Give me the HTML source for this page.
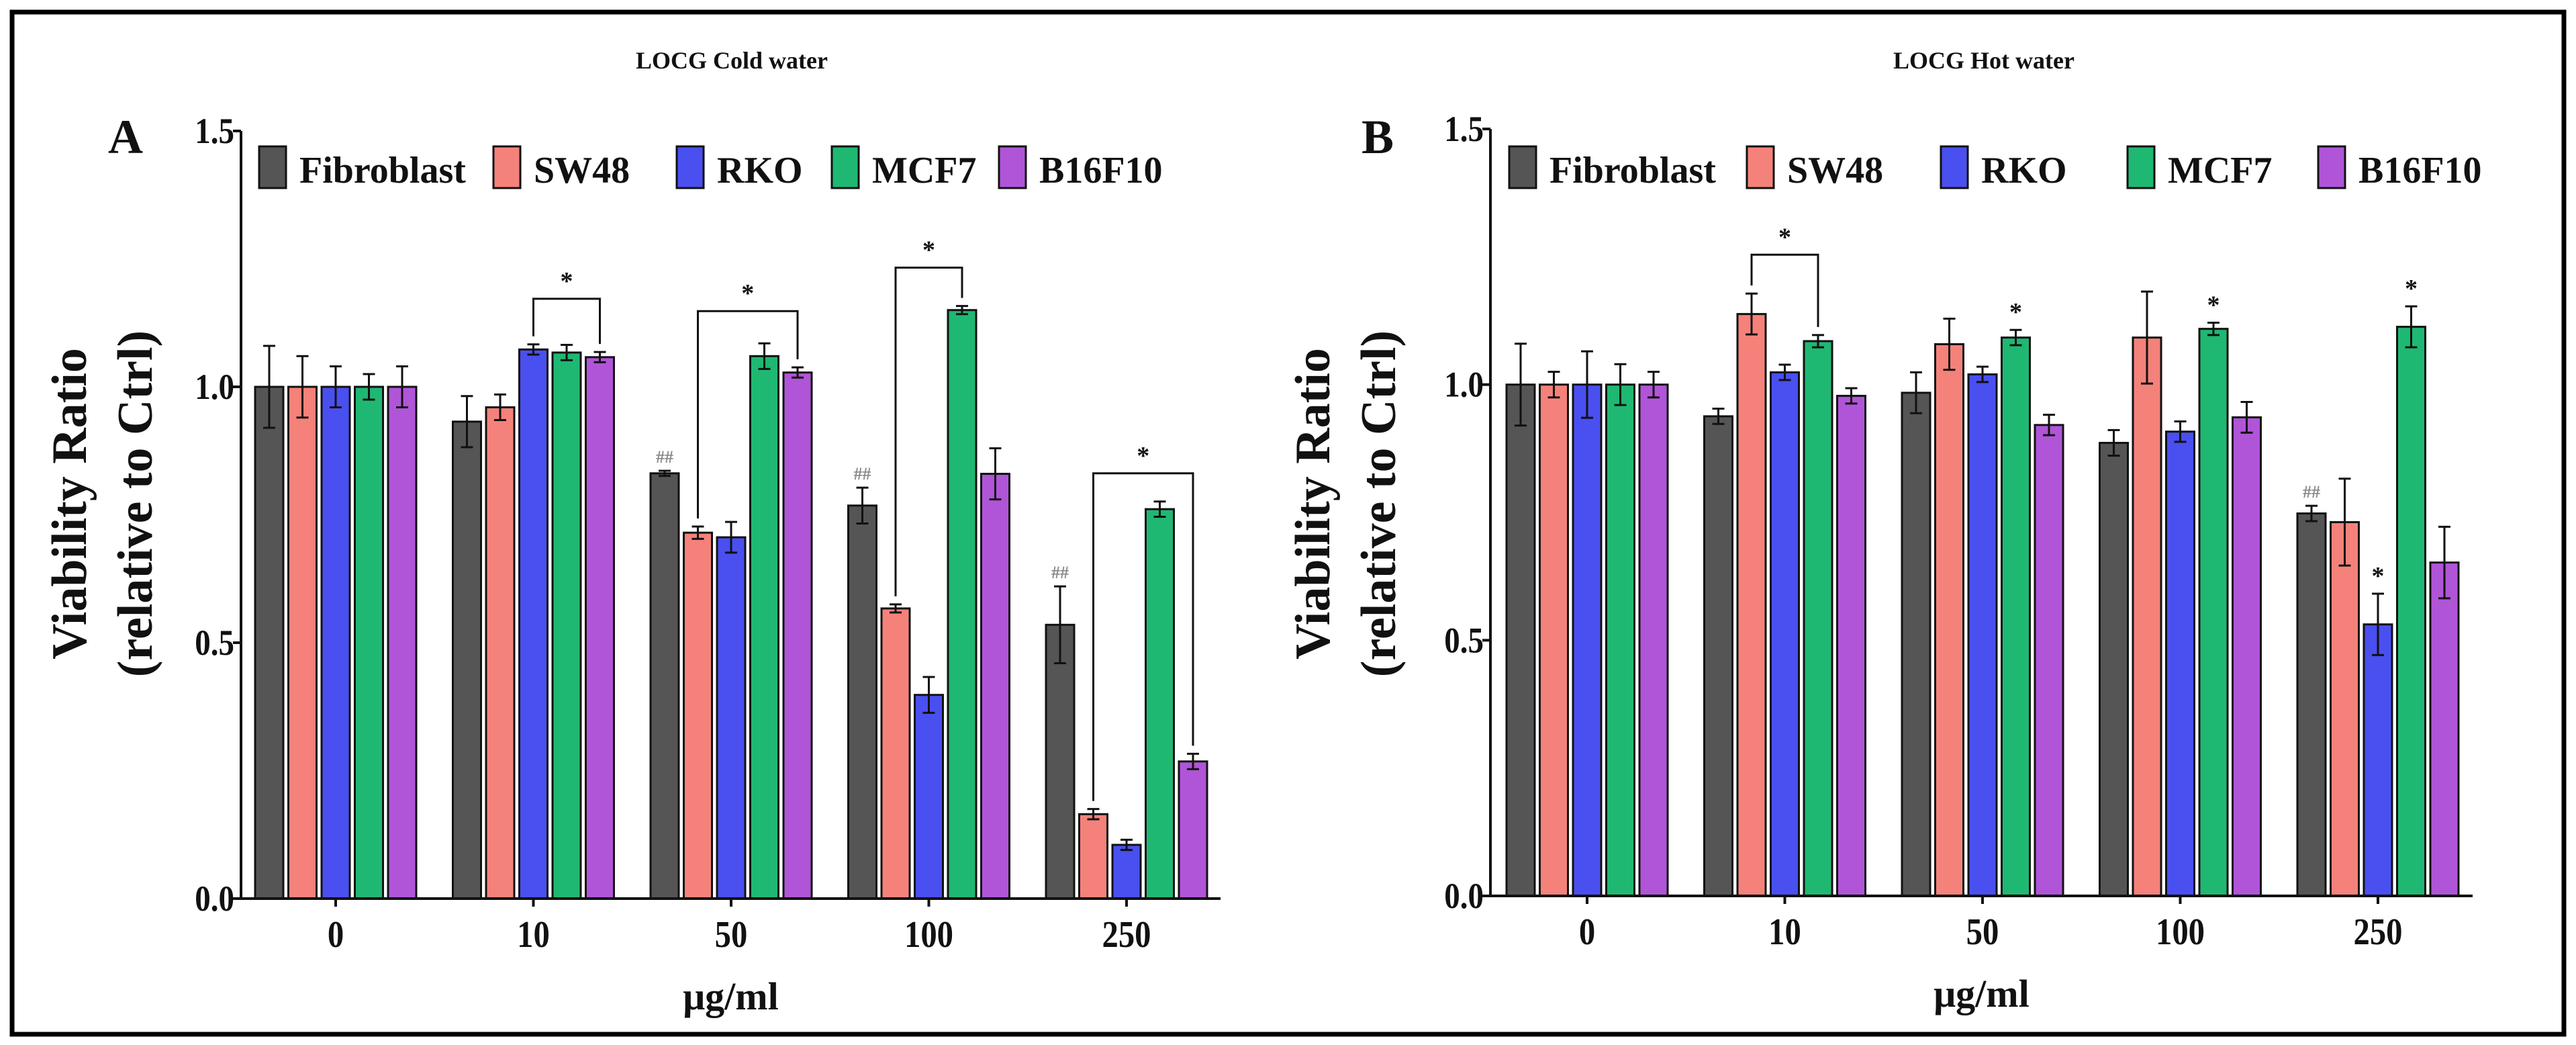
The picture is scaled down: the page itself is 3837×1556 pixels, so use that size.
<!DOCTYPE html>
<html><head><meta charset="utf-8"><style>
html,body{margin:0;padding:0;background:#fff;width:3837px;height:1556px;overflow:hidden}
svg text{font-family:"Liberation Serif",serif;font-weight:bold;fill:#111}
</style></head><body>
<svg id="chart" width="3837" height="1556" xmlns="http://www.w3.org/2000/svg">
<rect x="18" y="18" width="3801" height="1522" fill="#fff" stroke="#000" stroke-width="7"/>
</svg>
<script>
const series = ["Fibroblast","SW48","RKO","MCF7","B16F10"];
const colors = ["#555555","#f4827a","#4a4ff0","#1fb872","#b055d8"];
const categories = ["0","10","50","100","250"];
const yTicks = [0,0.5,1.0,1.5];
const yTickLabels = ["0.0","0.5","1.0","1.5"];
const coldFib = [1.0,0.932,0.831,0.768,0.535];
const coldSW48 = [1.0,0.96,0.715,0.567,0.165];
const coldRKO = [1.0,1.073,0.706,0.398,0.105];
const coldMCF7 = [1.0,1.067,1.06,1.15,0.761];
const coldB16 = [1.0,1.058,1.028,0.83,0.268];
const coldFibErr = [0.08,0.05,0.005,0.035,0.075];
const coldSW48Err = [0.06,0.025,0.012,0.008,0.01];
const coldRKOErr = [0.04,0.01,0.03,0.035,0.01];
const coldMCF7Err = [0.025,0.015,0.025,0.008,0.015];
const coldB16Err = [0.04,0.01,0.01,0.05,0.015];
const hotFib = [1.0,0.938,0.984,0.886,0.748];
const hotSW48 = [1.0,1.138,1.079,1.092,0.731];
const hotRKO = [1.0,1.024,1.02,0.908,0.531];
const hotMCF7 = [1.0,1.085,1.092,1.109,1.113];
const hotB16 = [1.0,0.978,0.921,0.936,0.652];
const hotFibErr = [0.08,0.015,0.04,0.025,0.015];
const hotSW48Err = [0.025,0.04,0.05,0.09,0.085];
const hotRKOErr = [0.065,0.015,0.015,0.02,0.06];
const hotMCF7Err = [0.04,0.012,0.015,0.012,0.04];
const hotB16Err = [0.025,0.015,0.02,0.03,0.07];
// brackets: [category index, left series, right series, bracket top value]
const coldBrackets = [[1,2,4,1.172],[2,1,4,1.148],[3,1,3,1.233],[4,1,4,0.831]];
const hotBrackets = [[1,1,3,1.254]];
const hotStars = [[2,3],[3,3],[4,3],[4,2]];
const coldHash = [[2,0],[3,0],[4,0]];
const hotHash = [[4,0]];

const NS="http://www.w3.org/2000/svg";
const svg=document.getElementById('chart');
function mk(tag,attrs,parent,text){const e=document.createElementNS(NS,tag);for(const k in attrs)e.setAttribute(k,attrs[k]);if(text!==undefined)e.textContent=text;(parent||svg).appendChild(e);return e;}

function panel(p){
  const g=mk('g',{});
  
  
  const y=v=>p.y0-(p.y0-p.y15)*v/1.5;
  const xc=i=>p.gx0+i*p.gstep;
  const bx=(i,s)=>xc(i)+(s-2)*49.5;
  const vals=p.vals, errs=p.errs;
  const t=mk('text',{x:p.titleX,y:102,'font-size':36,'text-anchor':'middle'},g,p.title);
  
  const L=mk('text',{x:p.letterX,y:228,'font-size':72,'text-anchor':'middle'},g,p.letter);
  
  for(let s=0;s<5;s++)for(let i=0;i<5;i++){
    const v=vals[s][i],x=bx(i,s);
    const r=mk('rect',{x:x-21,y:y(v),width:42,height:p.y0-y(v),fill:colors[s],stroke:'#111','stroke-width':3},g);
    
    
    const e=errs[s][i];
    const eb=mk('path',{d:`M${x},${y(v+e)}V${y(v-e)}M${x-9},${y(v+e)}h18M${x-9},${y(v-e)}h18`,stroke:'#111','stroke-width':3,fill:'none'},g);
    
  }
  const ax=mk('path',{d:`M${p.ax},${y(1.5)}V${p.y0}H${p.xend}`,stroke:'#111','stroke-width':4,fill:'none'},g);
  
  yTicks.forEach((v,k)=>{
    mk('path',{d:`M${p.ax-12},${y(v)}H${p.ax}`,stroke:'#111','stroke-width':4},g);
    const tl=mk('text',{'font-size':54,'text-anchor':'end',transform:`translate(${p.ax-10},${y(v)+18}) scale(0.87,1)`},g,yTickLabels[k]);
    
  });
  categories.forEach((c,i)=>{
    mk('path',{d:`M${xc(i)},${p.y0}v12`,stroke:'#111','stroke-width':4},g);
    const tl=mk('text',{'font-size':56,'text-anchor':'middle',transform:`translate(${xc(i)},${p.y0+72}) scale(0.87,1)`},g,c);
    
  });
  const xt=mk('text',{x:(p.ax+p.xend)/2,y:p.y0+165,'font-size':58,'text-anchor':'middle'},g,'μg/ml');
  
  const yt=mk('text',{'font-size':74,'text-anchor':'middle',transform:`translate(${p.ytx},750) rotate(-90)`},g,'Viability Ratio');
  
  const yt2=mk('text',{'font-size':74,'text-anchor':'middle',transform:`translate(${p.ytx+98},750) rotate(-90)`},g,'(relative to Ctrl)');
  
  for(let s=0;s<5;s++){
    const lg=mk('g',{},g);
    
    
    mk('rect',{x:p.leg[s],y:218,width:40,height:62,fill:colors[s],stroke:'#111','stroke-width':3},lg);
    mk('text',{x:p.leg[s]+60,y:272,'font-size':56},lg,series[s]);
  }
  p.brackets.forEach(b=>{
    const [i,a,c,tv]=b;const xa=bx(i,a),xb=bx(i,c);
    const ta=vals[a][i]+errs[a][i],tb=vals[c][i]+errs[c][i];
    const top=y(tv);
    const br=mk('path',{d:`M${xa},${y(ta)-12}V${top}H${xb}V${y(tb)-12}`,stroke:'#111','stroke-width':3,fill:'none'},g);
    
    mk('text',{x:(xa+xb)/2,y:top-14,'font-size':38,'text-anchor':'middle'},g,'*');
  });
  p.stars.forEach(b=>{const [i,s]=b;
    const st=mk('text',{x:bx(i,s),y:y(vals[s][i]+errs[s][i])-14,'font-size':38,'text-anchor':'middle'},g,'*');
    });
  p.hash.forEach(b=>{const [i,s]=b;
    const h=mk('text',{x:bx(i,s),y:y(vals[s][i]+errs[s][i])-12,'font-size':26,'text-anchor':'middle',style:'fill:#888'},g,'##');
    });
}
panel({name:'panel-a-cold-water',title:'LOCG Cold water',titleX:1090,letter:'A',letterX:187,
  ax:359,xend:1818,y0:1338,y15:195,gx0:500,gstep:294.5,ytx:128,
  leg:[386,735,1008,1239,1488],
  vals:[coldFib,coldSW48,coldRKO,coldMCF7,coldB16],errs:[coldFibErr,coldSW48Err,coldRKOErr,coldMCF7Err,coldB16Err],
  brackets:coldBrackets,stars:[],hash:coldHash});
panel({name:'panel-b-hot-water',title:'LOCG Hot water',titleX:2955,letter:'B',letterX:2052,
  ax:2220,xend:3683,y0:1334,y15:192,gx0:2364,gstep:294.5,ytx:1980,
  leg:[2248,2602,2891,3169,3453],
  vals:[hotFib,hotSW48,hotRKO,hotMCF7,hotB16],errs:[hotFibErr,hotSW48Err,hotRKOErr,hotMCF7Err,hotB16Err],
  brackets:hotBrackets,stars:hotStars,hash:hotHash});
</script>
</body></html>
